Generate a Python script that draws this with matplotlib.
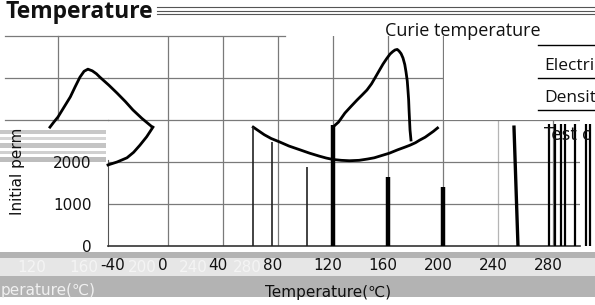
import matplotlib
matplotlib.use("Agg")
import matplotlib.pyplot as plt
from matplotlib.patches import Rectangle
from matplotlib.transforms import ScaledTranslation

W, H = 595, 305

# ---------------- data ----------------
x_ticks = [-40, 0, 40, 80, 120, 160, 200, 240, 280]
y_ticks = [0, 1000, 2000, 3000, 4000, 5000]
y_tick_labels = ["0", "1000", "2000", "", "", ""]

# low-temperature branch (U shaped)
u_temp = [62, 66, 70, 75, 81, 88, 96, 103, 110, 115, 120, 126, 132, 139, 145, 150,
          155, 161, 167, 172, 176, 180, 183, 187, 190, 193, 196]
u_mu = [2830, 2740, 2650, 2560, 2480, 2380, 2290, 2210, 2140, 2095, 2060, 2040, 2030,
        2040, 2070, 2100, 2150, 2210, 2290, 2350, 2400, 2460, 2520, 2590, 2660, 2730, 2810]

# secondary maximum near Curie point
p_temp = [120, 124, 128.7, 133, 137.5, 141, 144.7, 148, 150.5, 153.5, 156.4, 159, 161.5,
          163.5, 165.1, 166.7, 168.0, 169.5, 170.9, 172.2, 173.1, 174.0, 174.5, 175.0,
          175.3, 176.0, 176.7]
p_mu = [2833, 2950, 3167, 3320, 3476, 3590, 3714, 3860, 4000, 4170, 4333, 4460, 4571,
        4630, 4667, 4680, 4643, 4580, 4476, 4320, 4143, 3930, 3714, 3480, 3238, 2762, 2524]

# shifted (ghost) copies on the left
gp_temp = [-85.8, -83, -80, -75.5, -71, -67.5, -64, -61, -58.2, -55, -52, -49.5, -43,
           -37, -31, -25.5, -19, -12.4, -11.6]
gp_mu = [2830, 2950, 3070, 3310, 3550, 3790, 4020, 4160, 4210, 4170, 4100, 4020, 3830,
         3640, 3440, 3240, 3040, 2860, 2830]
gu_temp = [-43.6, -37, -29.8, -25, -20.4, -15.5, -10.9]
gu_mu = [1930, 2000, 2100, 2230, 2400, 2600, 2830]

# vertical marks
thick_temp = [120, 160, 200]
thick_mu = [2880, 1640, 1400]
thin_temp = [62, 75.6, 101]
thin_mu = [2830, 2480, 1880]
slant_temp = [251.6, 254.5]
slant_mu = [2830, 0]
stripe_temp = [277, 281.5, 285.8, 288.7, 296, 304, 307]
stripe_top = 2900

ghost_tick_labels = ["120", "160", "200", "240", "280"]

# ---------------- figure ----------------
fig = plt.figure(figsize=(W / 100, H / 100), dpi=100)
fig.patch.set_facecolor("white")


def fx(px):
    return px / W


def fy(py):
    return 1 - py / H


ax = fig.add_axes([fx(108), fy(246), (580 - 108) / W, (246 - 36) / H])
ax.set_xlim(-43.6, 299.6)
ax.set_ylim(0, 5000)
ax.set_axisbelow(True)

ax.set_xticks(x_ticks)
ax.set_xticklabels([str(t) for t in x_ticks])
ax.set_yticks(y_ticks)
ax.set_yticklabels(y_tick_labels)
ax.tick_params(length=0, labelsize=11, colors="#111111")
ax.tick_params(axis="y", pad=12)
ax.tick_params(axis="x", pad=9)
off = ScaledTranslation(-5 / 100, 0, fig.dpi_scale_trans)
for t, lbl in zip(x_ticks, ax.get_xticklabels()):
    if t != -40:
        lbl.set_transform(lbl.get_transform() + off)

grid_c = "#7a7a7a"
for t in [0, 40, 80, 120, 160, 200, 280]:
    ax.axvline(t, color=grid_c, lw=0.9, zorder=0.5)
ax.axvline(240, color="#b5b5b5", lw=0.9, zorder=0.5)
for v in [1000, 2000, 3000, 4000]:
    ax.axhline(v, color=grid_c, lw=0.9, zorder=0.5)

for s in ["top", "right"]:
    ax.spines[s].set_visible(False)
ax.spines["left"].set_bounds(0, 2050)
ax.spines["left"].set_color("#555555")
ax.spines["bottom"].set_color("#333333")
ax.spines["bottom"].set_linewidth(1.2)

# extension of the grid to the upper-left
for v in [3000, 4000]:
    ax.plot([-118.5, -43.6], [v, v], color=grid_c, lw=0.9, clip_on=False, zorder=0.5)
ax.plot([-118.5, 85], [5000, 5000], color=grid_c, lw=0.9, clip_on=False, zorder=0.5)
ax.plot([-80, -80], [3000, 5000], color=grid_c, lw=0.9, clip_on=False, zorder=0.5)

# white cover, upper right
ax.add_patch(Rectangle((201, 3000), 130, 2600, facecolor="white", edgecolor="none",
                       clip_on=False, zorder=1))

# curves
lw_c = 2.0
ax.plot(u_temp, u_mu, color="black", lw=lw_c, zorder=3)
ax.plot(p_temp, p_mu, color="black", lw=lw_c, zorder=3)
ax.plot(gp_temp, gp_mu, color="black", lw=lw_c, zorder=3, clip_on=False)
ax.plot(gu_temp, gu_mu, color="black", lw=lw_c, zorder=3, clip_on=False)

ax.vlines(thick_temp, 0, thick_mu, color="black", lw=3.2, zorder=3)
ax.vlines(thin_temp, 0, thin_mu, color="#222222", lw=1.2, zorder=3)
ax.plot(slant_temp, slant_mu, color="black", lw=2.4, zorder=3)
ax.vlines(stripe_temp, 0, stripe_top, color="black", lw=1.6, zorder=3, clip_on=False)

ax.set_xlabel("Temperature(℃)", fontsize=11, color="#111111")
ax.xaxis.label.set_va("center")
ax.xaxis.set_label_coords((328 - 108) / 472, -(292 - 246) / 210)
fig.text(fx(18), fy(215), "Initial perm", rotation=90, fontsize=11, color="#111111",
         ha="center", va="bottom")

# bottom glitch bands
fig.patches.append(Rectangle((0, fy(297)), 1, (297 - 252) / H, transform=fig.transFigure,
                             facecolor="#b3b3b3", edgecolor="none", zorder=-2))
fig.patches.append(Rectangle((0, fy(276)), 1, (276 - 258) / H, transform=fig.transFigure,
                             facecolor="#e6e6e6", edgecolor="none", zorder=-1.5))
for px, lab in zip([32, 84, 142, 193, 247], ghost_tick_labels):
    fig.text(fx(px), fy(267), lab, fontsize=11, color="#f4f4f4", ha="center", va="center",
             zorder=-1)
fig.text(fx(1), fy(291), "perature(℃)", fontsize=11, color="#f0f0f0", ha="left",
         va="center", zorder=-1)

# left glitch streaks
for y0, h, c in [(130, 4, "#c8c8c8"), (137, 3, "#d6d6d6"), (143, 5, "#c4c4c4"),
                 (151, 3, "#d0d0d0"), (157, 5, "#bdbdbd")]:
    fig.patches.append(Rectangle((fx(0), fy(y0 + h)), fx(106), h / H,
                                 transform=fig.transFigure, facecolor=c,
                                 edgecolor="none", zorder=-1))

# title with rules
fig.text(fx(6), fy(18), "Temperature", fontsize=16.5, fontweight="bold",
         family=["Open Sans", "DejaVu Sans"], color="#111111", ha="left", va="baseline")
for yy in [7, 10.5, 14]:
    fig.add_artist(plt.Line2D([fx(157), 1], [fy(yy), fy(yy)], color="#555555", lw=0.8))

# Curie temperature label
fig.text(fx(385), fy(36), "Curie temperature", fontsize=13,
         family=["Open Sans", "DejaVu Sans"], color="#111111", ha="left", va="baseline")

# table fragment
for yy in [45, 78, 110]:
    fig.add_artist(plt.Line2D([fx(538), 1], [fy(yy), fy(yy)], color="black", lw=1.0))
fig.text(fx(544), fy(70), "Electri", fontsize=12.5, family=["Open Sans", "DejaVu Sans"],
         color="#111111", ha="left", va="baseline")
fig.text(fx(544), fy(102), "Densit", fontsize=12.5, family=["Open Sans", "DejaVu Sans"],
         color="#111111", ha="left", va="baseline")
fig.text(fx(544), fy(140), "Test c", fontsize=12, family=["DejaVu Sans"],
         color="#111111", ha="left", va="baseline")

fig.savefig("out.png", dpi=100)
